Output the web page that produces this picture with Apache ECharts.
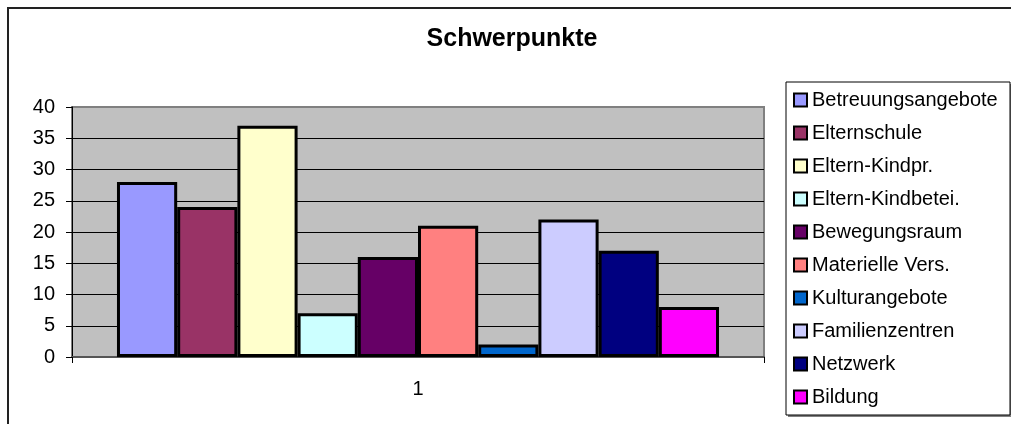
<!DOCTYPE html>
<html>
<head>
<meta charset="utf-8">
<script src="https://cdn.jsdelivr.net/npm/echarts@6/dist/echarts.min.js"></script>
<style>
  html, body { margin: 0; padding: 0; background: #fff; }
  #chart { width: 1011px; height: 424px; }
</style>
</head>
<body>
<div id="chart"></div>
<script>
// data
var categories = ['1'];
var seriesNames = ['Betreuungsangebote', 'Elternschule', 'Eltern-Kindpr.', 'Eltern-Kindbetei.', 'Bewegungsraum',
                   'Materielle Vers.', 'Kulturangebote', 'Familienzentren', 'Netzwerk', 'Bildung'];
var seriesValues = [28, 24, 37, 7, 16, 21, 2, 22, 17, 8];
var seriesColors = ['#9999FF', '#993366', '#FFFFCC', '#CCFFFF', '#660066',
                    '#FF8080', '#0066CC', '#CCCCFF', '#000080', '#FF00FF'];
var yTicks = [0, 5, 10, 15, 20, 25, 30, 35, 40];

var FONT = 'Arial, "Liberation Sans", sans-serif';

var myChart = echarts.init(document.getElementById('chart'));

var series = seriesNames.map(function (name, i) {
    return {
        name: name,
        type: 'bar',
        data: [seriesValues[i]],
        barGap: '0%',
        barCategoryGap: '13%',
        itemStyle: {
            color: seriesColors[i],
            borderColor: '#000',
            borderWidth: 3
        },
        emphasis: { disabled: true }
    };
});

// legend entries, each with a black frame round the colour square
var legendData = seriesNames.map(function (name, i) {
    return {
        name: name,
        icon: 'rect',
        itemStyle: { color: seriesColors[i], borderColor: '#000', borderWidth: 2 }
    };
});

var option = {
    animation: false,
    backgroundColor: '#fff',
    title: {
        text: 'Schwerpunkte',
        left: 507,
        top: 22,
        textAlign: 'center',
        textStyle: { fontFamily: FONT, fontSize: 25, fontWeight: 'bold', color: '#000' }
    },
    graphic: [
        // chart frame
        { type: 'rect', shape: { x: 8, y: 8, width: 1100, height: 500 },
          style: { fill: 'none', stroke: '#222', lineWidth: 2 }, z: 0 },
        // legend box shadow + box
        { type: 'rect', shape: { x: 788, y: 84, width: 224, height: 333 },
          style: { fill: '#808080' }, z: 0 },
        { type: 'rect', shape: { x: 786, y: 82, width: 224, height: 333 },
          style: { fill: '#fff', stroke: '#000', lineWidth: 1 }, z: 0 }
    ],
    legend: {
        orient: 'vertical',
        left: 793,
        top: 90,
        padding: 0,
        itemGap: 13,
        itemWidth: 13,
        itemHeight: 13,
        icon: 'rect',
        selectedMode: false,
        itemStyle: { borderColor: '#000', borderWidth: 2 },
        textStyle: { fontFamily: FONT, fontSize: 20, color: '#000', lineHeight: 20 },
        data: legendData
    },
    grid: {
        left: 72,
        top: 107,
        right: 247,
        bottom: 67,
        show: true,
        backgroundColor: '#C0C0C0',
        borderColor: '#808080',
        borderWidth: 2
    },
    xAxis: {
        type: 'category',
        data: categories,
        axisLine: { lineStyle: { color: '#555', width: 2 } },
        axisTick: { show: true, alignWithLabel: false, length: 6, lineStyle: { color: '#000' } },
        axisLabel: { fontFamily: FONT, fontSize: 20, color: '#000', margin: 22 }
    },
    yAxis: {
        type: 'value',
        min: yTicks[0],
        max: yTicks[yTicks.length - 1],
        interval: 5,
        axisLine: { show: true, lineStyle: { color: '#000', width: 1 } },
        axisTick: { show: true, length: 6, lineStyle: { color: '#000' } },
        axisLabel: { fontFamily: FONT, fontSize: 20, color: '#000', margin: 17 },
        splitLine: { show: true, lineStyle: { color: ['#000', '#000', '#000', '#000', '#000', '#000', '#000', '#000', '#808080'], width: 1 } }
    },
    series: series
};

myChart.setOption(option);
</script>
</body>
</html>
